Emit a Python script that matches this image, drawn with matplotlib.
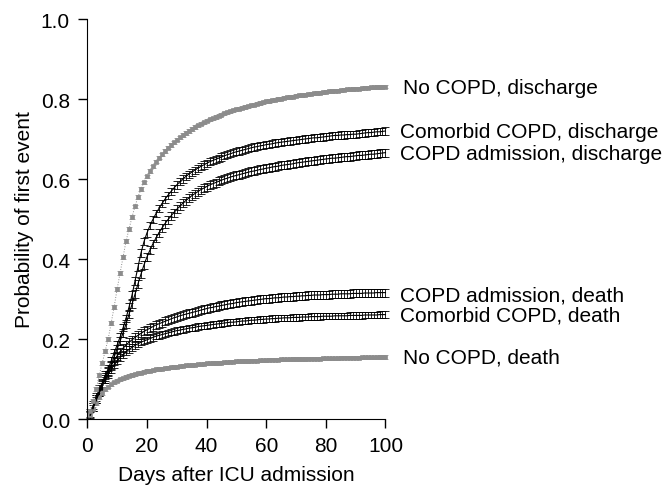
#!/usr/bin/env python3
"""
Cumulative incidence of first event (discharge / death) after ICU admission
"""

import matplotlib
matplotlib.use('Agg')
import matplotlib.pyplot as plt

plt.rcParams['font.family'] = ['Liberation Sans', 'DejaVu Sans']

# Days after ICU admission (one point per day)
days = list(range(1, 101))

# Probability of first event
no_copd_discharge = [
    0.020, 0.045, 0.075, 0.110, 0.140, 0.170, 0.200, 0.240, 0.280, 0.325,
    0.365, 0.405, 0.445, 0.475, 0.505, 0.532, 0.555, 0.575, 0.592, 0.607,
    0.620, 0.632, 0.643, 0.653, 0.662, 0.670, 0.678, 0.685, 0.692, 0.698,
    0.704, 0.710, 0.715, 0.720, 0.725, 0.730, 0.734, 0.738, 0.742, 0.746,
    0.749, 0.752, 0.755, 0.758, 0.761, 0.764, 0.767, 0.769, 0.772, 0.774,
    0.776, 0.778, 0.780, 0.782, 0.784, 0.786, 0.788, 0.790, 0.792, 0.794,
    0.795, 0.797, 0.798, 0.800, 0.801, 0.803, 0.804, 0.805, 0.806, 0.808,
    0.809, 0.810, 0.811, 0.812, 0.813, 0.814, 0.815, 0.816, 0.817, 0.818,
    0.819, 0.820, 0.821, 0.821, 0.822, 0.823, 0.824, 0.824, 0.825, 0.826,
    0.826, 0.827, 0.828, 0.828, 0.829, 0.829, 0.830, 0.830, 0.831, 0.831,
]
comorbid_discharge = [
    0.015, 0.035, 0.055, 0.075, 0.090, 0.110, 0.125, 0.145, 0.165, 0.185,
    0.205, 0.228, 0.252, 0.280, 0.310, 0.345, 0.380, 0.415, 0.443, 0.465,
    0.483, 0.499, 0.513, 0.526, 0.538, 0.549, 0.559, 0.568, 0.577, 0.585,
    0.593, 0.600, 0.606, 0.612, 0.617, 0.622, 0.627, 0.631, 0.635, 0.639,
    0.643, 0.646, 0.649, 0.652, 0.655, 0.658, 0.661, 0.663, 0.666, 0.668,
    0.670, 0.672, 0.674, 0.676, 0.678, 0.680, 0.681, 0.683, 0.684, 0.686,
    0.687, 0.688, 0.690, 0.691, 0.692, 0.693, 0.694, 0.695, 0.696, 0.697,
    0.698, 0.699, 0.700, 0.701, 0.702, 0.703, 0.703, 0.704, 0.705, 0.706,
    0.707, 0.708, 0.709, 0.709, 0.710, 0.710, 0.711, 0.711, 0.712, 0.712,
    0.713, 0.714, 0.715, 0.716, 0.716, 0.717, 0.718, 0.718, 0.719, 0.720,
]
copd_adm_discharge = [
    0.010, 0.030, 0.050, 0.068, 0.085, 0.100, 0.118, 0.136, 0.155, 0.175,
    0.195, 0.215, 0.238, 0.262, 0.287, 0.312, 0.338, 0.362, 0.385, 0.405,
    0.422, 0.438, 0.452, 0.465, 0.477, 0.488, 0.498, 0.507, 0.516, 0.524,
    0.532, 0.539, 0.546, 0.552, 0.558, 0.563, 0.568, 0.573, 0.577, 0.581,
    0.585, 0.588, 0.591, 0.594, 0.597, 0.600, 0.602, 0.605, 0.607, 0.609,
    0.611, 0.613, 0.615, 0.617, 0.619, 0.620, 0.622, 0.624, 0.625, 0.627,
    0.628, 0.630, 0.631, 0.632, 0.634, 0.635, 0.636, 0.637, 0.638, 0.640,
    0.641, 0.642, 0.643, 0.644, 0.645, 0.646, 0.647, 0.648, 0.649, 0.650,
    0.651, 0.652, 0.652, 0.653, 0.654, 0.655, 0.656, 0.656, 0.657, 0.658,
    0.659, 0.659, 0.660, 0.661, 0.662, 0.662, 0.663, 0.664, 0.665, 0.666,
]
copd_adm_death = [
    0.010, 0.030, 0.050, 0.070, 0.088, 0.104, 0.119, 0.133, 0.146, 0.158,
    0.168, 0.177, 0.185, 0.192, 0.198, 0.204, 0.209, 0.214, 0.219, 0.223,
    0.227, 0.231, 0.235, 0.238, 0.241, 0.244, 0.247, 0.250, 0.253, 0.255,
    0.258, 0.260, 0.262, 0.264, 0.266, 0.268, 0.270, 0.272, 0.274, 0.276,
    0.278, 0.279, 0.281, 0.282, 0.284, 0.285, 0.287, 0.288, 0.289, 0.291,
    0.292, 0.293, 0.294, 0.295, 0.296, 0.297, 0.298, 0.299, 0.300, 0.301,
    0.301, 0.302, 0.303, 0.303, 0.304, 0.305, 0.305, 0.306, 0.306, 0.307,
    0.307, 0.308, 0.308, 0.309, 0.309, 0.310, 0.310, 0.310, 0.311, 0.311,
    0.311, 0.312, 0.312, 0.312, 0.313, 0.313, 0.313, 0.313, 0.314, 0.314,
    0.314, 0.314, 0.315, 0.315, 0.315, 0.315, 0.316, 0.316, 0.316, 0.316,
]
comorbid_death = [
    0.010, 0.028, 0.047, 0.065, 0.082, 0.097, 0.111, 0.124, 0.135, 0.145,
    0.154, 0.161, 0.168, 0.174, 0.179, 0.184, 0.188, 0.192, 0.195, 0.198,
    0.201, 0.204, 0.207, 0.209, 0.211, 0.213, 0.215, 0.217, 0.219, 0.221,
    0.222, 0.224, 0.225, 0.227, 0.228, 0.229, 0.231, 0.232, 0.233, 0.234,
    0.235, 0.236, 0.237, 0.238, 0.239, 0.240, 0.241, 0.242, 0.242, 0.243,
    0.244, 0.245, 0.245, 0.246, 0.247, 0.247, 0.248, 0.249, 0.249, 0.250,
    0.250, 0.251, 0.251, 0.252, 0.252, 0.253, 0.253, 0.253, 0.254, 0.254,
    0.254, 0.255, 0.255, 0.255, 0.256, 0.256, 0.256, 0.256, 0.257, 0.257,
    0.257, 0.257, 0.258, 0.258, 0.258, 0.258, 0.258, 0.259, 0.259, 0.259,
    0.259, 0.259, 0.260, 0.260, 0.260, 0.260, 0.260, 0.261, 0.261, 0.261,
]
no_copd_death = [
    0.010, 0.025, 0.040, 0.054, 0.065, 0.074, 0.081, 0.087, 0.092, 0.096,
    0.099, 0.102, 0.105, 0.108, 0.110, 0.112, 0.114, 0.116, 0.118, 0.120,
    0.121, 0.122, 0.124, 0.125, 0.126, 0.127, 0.128, 0.129, 0.130, 0.131,
    0.132, 0.133, 0.134, 0.134, 0.135, 0.136, 0.137, 0.137, 0.138, 0.139,
    0.139, 0.140, 0.140, 0.141, 0.141, 0.142, 0.142, 0.143, 0.143, 0.144,
    0.144, 0.145, 0.145, 0.145, 0.146, 0.146, 0.146, 0.147, 0.147, 0.147,
    0.148, 0.148, 0.148, 0.148, 0.149, 0.149, 0.149, 0.149, 0.150, 0.150,
    0.150, 0.150, 0.150, 0.151, 0.151, 0.151, 0.151, 0.151, 0.152, 0.152,
    0.152, 0.152, 0.152, 0.152, 0.153, 0.153, 0.153, 0.153, 0.153, 0.153,
    0.153, 0.154, 0.154, 0.154, 0.154, 0.154, 0.154, 0.155, 0.155, 0.155,
]

# Half width of the confidence bars per series
err_no_copd = 0.004
err_comorbid_discharge = 0.009
err_copd_adm_discharge = 0.010
err_copd_adm_death = 0.010
err_comorbid_death = 0.008

# Curve labels at the right end
labels = ['No COPD, discharge', 'Comorbid COPD, discharge', 'COPD admission, discharge',
          'COPD admission, death', 'Comorbid COPD, death', 'No COPD, death']
label_y = [0.830, 0.720, 0.663, 0.310, 0.260, 0.155]

GRAY = '#8c8c8c'
FS = 15


def draw_series(ax, y, err, gray):
    if gray:
        eb = ax.errorbar(days, y, yerr=err, fmt='s', ms=2.5, mfc=GRAY, mec=GRAY,
                         mew=0.5, color=GRAY, ls=':', lw=0.7, ecolor=GRAY,
                         elinewidth=0.5, capsize=2, capthick=0.5)
    else:
        eb = ax.errorbar(days, y, yerr=err, fmt='-', color='black', lw=0.8,
                         ecolor='black', elinewidth=0.6, capsize=3, capthick=0.6)
    for artist in eb.lines[0:1] + tuple(eb.lines[1]) + tuple(eb.lines[2]):
        if artist is not None:
            artist.set_clip_on(False)


fig = plt.figure(figsize=(6.69, 4.89), dpi=100)
ax = fig.add_axes([0.1305, 0.1411, 0.4457, 0.818])

draw_series(ax, no_copd_death, err_no_copd, True)
draw_series(ax, comorbid_death, err_comorbid_death, False)
draw_series(ax, copd_adm_death, err_copd_adm_death, False)
draw_series(ax, copd_adm_discharge, err_copd_adm_discharge, False)
draw_series(ax, comorbid_discharge, err_comorbid_discharge, False)
draw_series(ax, no_copd_discharge, err_no_copd, True)

ax.set_xlim(0, 100)
ax.set_ylim(0, 1.0)
ax.set_xticks([0, 20, 40, 60, 80, 100])
ax.set_yticks([0.0, 0.2, 0.4, 0.6, 0.8, 1.0])
ax.set_yticklabels(['0.0', '0.2', '0.4', '0.6', '0.8', '1.0'])
ax.spines['top'].set_visible(False)
ax.spines['right'].set_visible(False)
ax.tick_params(direction='out', length=6.5, width=1, pad=6, labelsize=FS, colors='black')
ax.set_xlabel('Days after ICU admission', fontsize=FS, labelpad=7)
ax.set_ylabel('Probability of first event', fontsize=FS, labelpad=5)

for text, y in zip(labels, label_y):
    x = 106 if text.startswith('No COPD') else 105
    ax.text(x, y, text, fontsize=FS, va='center', ha='left', clip_on=False)

fig.savefig('out.png', dpi=100)
